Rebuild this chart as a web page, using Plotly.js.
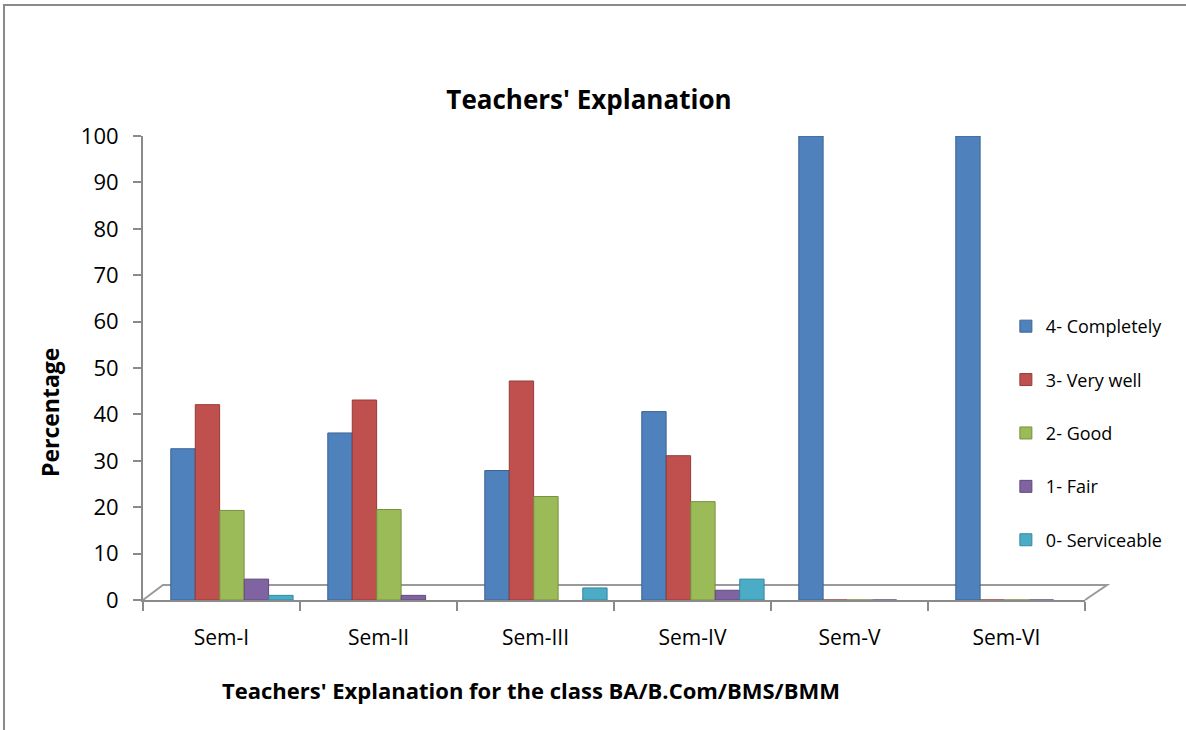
<!DOCTYPE html>
<html>
<head>
<meta charset="utf-8">
<script src="https://cdn.plot.ly/plotly-3.0.1.min.js"></script>
<style>
  html, body { margin: 0; padding: 0; background: #fff; }
  #wrap { position: relative; width: 1186px; height: 730px; }
  #chart { width: 1186px; height: 730px; }
  #frame { position: absolute; left: 3px; top: 4px; width: 1183px; height: 726px;
           border-left: 2px solid #8a8a8a; border-top: 2px solid #8a8a8a; pointer-events: none; }
</style>
</head>
<body>
<div id="wrap">
  <div id="chart"></div>
  <div id="frame"></div>
</div>
<script>
// ---- data ----
const categories = ["Sem-I", "Sem-II", "Sem-III", "Sem-IV", "Sem-V", "Sem-VI"];
const seriesNames = ["4- Completely", "3- Very well", "2- Good", "1- Fair", "0- Serviceable"];
const completely  = [32.6, 36.0, 27.9, 40.6, 100, 100];
const veryWell    = [42.1, 43.1, 47.2, 31.1, 0, 0];
const good        = [19.3, 19.5, 22.3, 21.2, 0, 0];
const fair        = [4.5, 1.0, null, 2.1, 0, 0];
const serviceable = [1.0, null, 2.6, 4.5, null, null];
const yTicks = [0, 10, 20, 30, 40, 50, 60, 70, 80, 90, 100];

const seriesValues = [completely, veryWell, good, fair, serviceable];
const colors = ["#4F81BD", "#C0504D", "#9BBB59", "#8064A2", "#4BACC6"];
const edges  = ["#3A6494", "#943B39", "#77913F", "#5F4A7A", "#3786A0"];
const offsets = [-0.323, -0.167, -0.011, 0.145, 0.301];

const font = "'Open Sans', 'Liberation Sans', sans-serif";

const traces = seriesValues.map((vals, i) => ({
  type: "bar",
  name: seriesNames[i],
  x: categories,
  y: vals,
  width: 0.155,
  offset: offsets[i],
  marker: { color: colors[i], line: { color: edges[i], width: 1 } },
  legendgroup: "g" + i,
  hoverinfo: "x+y+name"
}));

const layout = {
  width: 1186, height: 730,
  margin: { l: 143, r: 101, t: 136, b: 130 },
  paper_bgcolor: "#ffffff",
  plot_bgcolor: "rgba(0,0,0,0)",
  barmode: "overlay",
  font: { family: font, color: "#000" },
  title: {
    text: "<b>Teachers' Explanation</b>",
    font: { family: font, size: 26, color: "#000" },
    x: 0.4966, xref: "container", xanchor: "center",
    y: 0.863, yref: "container", yanchor: "middle"
  },
  xaxis: {
    type: "category",
    range: [-0.5, 5.5],
    showline: true, linecolor: "#8a8a8a", linewidth: 2,
    ticks: "outside", tickson: "boundaries", ticklen: 9, tickwidth: 2, tickcolor: "#8a8a8a",
    tickfont: { family: font, size: 21, color: "#000" },
    ticklabelstandoff: 18,
    showgrid: false, zeroline: false, fixedrange: true
  },
  yaxis: {
    range: [0, 100],
    tickvals: yTicks,
    ticktext: yTicks.map(String),
    showline: true, linecolor: "#8a8a8a", linewidth: 2,
    ticks: "outside", ticklen: 8, tickwidth: 2, tickcolor: "#8a8a8a",
    tickfont: { family: font, size: 22, color: "#000" },
    ticklabelstandoff: 10,
    showgrid: false, zeroline: false, fixedrange: true
  },
  legend: {
    x: 0.916, xanchor: "left",
    y: 0.36, yanchor: "middle",
    font: { family: font, size: 18, color: "#000" },
    traceorder: "grouped",
    tracegroupgap: 27,
    bgcolor: "rgba(0,0,0,0)",
    borderwidth: 0
  },
  shapes: [{
    type: "path", xref: "paper", yref: "paper", layer: "below",
    path: "M 0,0 L 0.0212,0.0323 L 1.0234,0.0323 L 1,0",
    line: { color: "#9a9a9a", width: 2 }
  }],
  annotations: [
    {
      text: "<b>Teachers' Explanation for the class BA/B.Com/BMS/BMM</b>",
      xref: "paper", yref: "paper", x: 0.412, y: -0.194,
      xanchor: "center", yanchor: "middle", showarrow: false,
      font: { family: font, size: 22, color: "#000" }
    },
    {
      text: "<b>Percentage</b>",
      xref: "paper", yref: "paper", x: -0.0987, y: 0.403,
      xanchor: "center", yanchor: "middle", showarrow: false, textangle: -90,
      font: { family: font, size: 23, color: "#000" }
    }
  ]
};

Plotly.newPlot("chart", traces, layout, { displayModeBar: false, staticPlot: false });
</script>
</body>
</html>
